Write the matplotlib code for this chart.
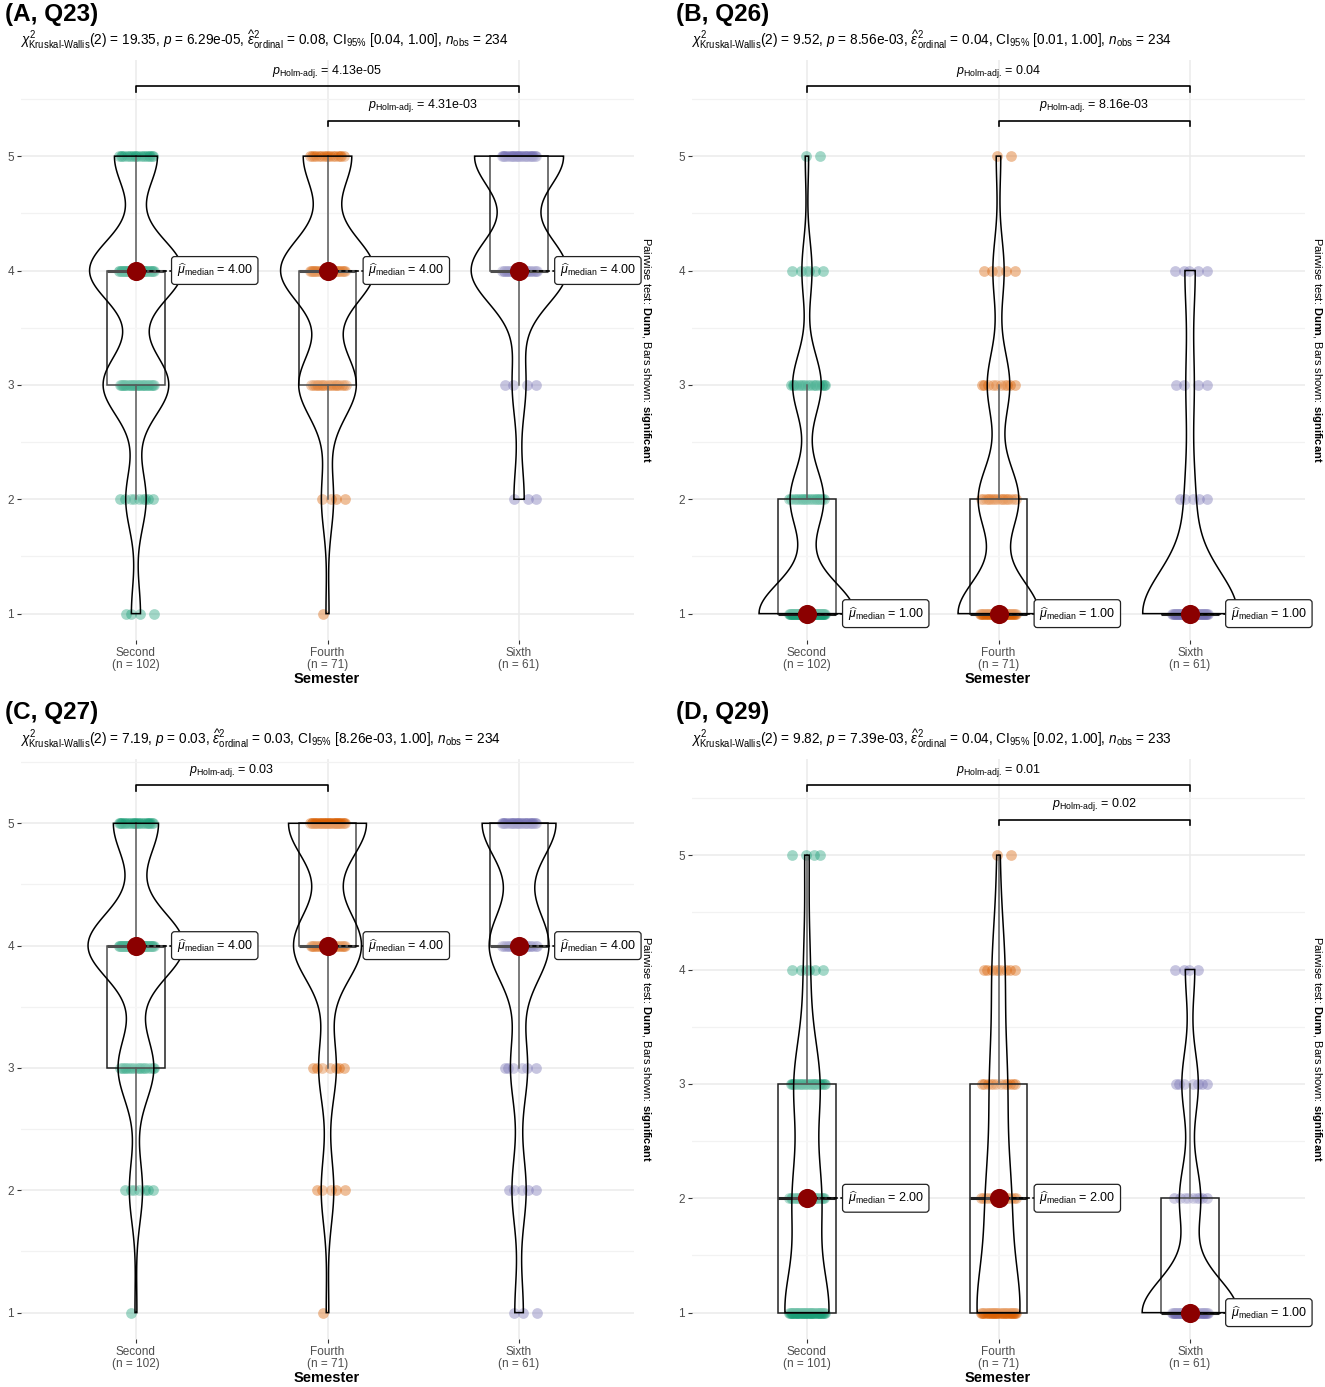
import numpy as np
import matplotlib.pyplot as plt
from matplotlib.patches import Polygon

# Fonts: Arial-like text, math in the same family
plt.rcParams['font.family'] = ['Liberation Sans', 'DejaVu Sans']
plt.rcParams['mathtext.fontset'] = 'custom'
plt.rcParams['mathtext.rm'] = 'Liberation Sans'
plt.rcParams['mathtext.it'] = 'Liberation Sans:italic'
plt.rcParams['mathtext.bf'] = 'Liberation Sans:bold'
plt.rcParams['mathtext.sf'] = 'Liberation Sans'

# Likert levels and semester groups
levels = [1, 2, 3, 4, 5]
groups = ['Second', 'Fourth', 'Sixth']

q23_second = [4, 9, 29, 41, 19]
q23_fourth = [1, 4, 19, 31, 16]
q23_sixth = [0, 3, 4, 28, 26]

q26_second = [57, 20, 17, 6, 2]
q26_fourth = [36, 18, 10, 5, 2]
q26_sixth = [47, 5, 4, 5, 0]

q27_second = [1, 7, 19, 51, 24]
q27_fourth = [1, 5, 7, 27, 31]
q27_sixth = [3, 5, 6, 21, 26]

q29_second = [41, 26, 24, 6, 4]
q29_fourth = [31, 17, 12, 9, 2]
q29_sixth = [41, 9, 7, 4, 0]

# panel titles and test results
titles = ['(A, Q23)', '(B, Q26)', '(C, Q27)', '(D, Q29)']
chi = r'$\chi^2_{\text{Kruskal-Wallis}}$'
eps = r'$\widehat{\varepsilon}^2_{\text{ordinal}}$'
subtitles = [
    chi + r'(2) = 19.35, $p$ = 6.29e-05, ' + eps + r' = 0.08, CI$_{95\%}$ [0.04, 1.00], $n_{\text{obs}}$ = 234',
    chi + r'(2) = 9.52, $p$ = 8.56e-03, ' + eps + r' = 0.04, CI$_{95\%}$ [0.01, 1.00], $n_{\text{obs}}$ = 234',
    chi + r'(2) = 7.19, $p$ = 0.03, ' + eps + r' = 0.03, CI$_{95\%}$ [8.26e-03, 1.00], $n_{\text{obs}}$ = 234',
    chi + r'(2) = 9.82, $p$ = 7.39e-03, ' + eps + r' = 0.04, CI$_{95\%}$ [0.02, 1.00], $n_{\text{obs}}$ = 233',
]
# significant Dunn pairs (group index a, group index b, Holm-adjusted p)
pairs_q23 = [(1, 3, '4.13e-05'), (2, 3, '4.31e-03')]
pairs_q26 = [(1, 3, '0.04'), (2, 3, '8.16e-03')]
pairs_q27 = [(1, 2, '0.03')]
pairs_q29 = [(1, 3, '0.01'), (2, 3, '0.02')]

panel_counts = [
    [q23_second, q23_fourth, q23_sixth],
    [q26_second, q26_fourth, q26_sixth],
    [q27_second, q27_fourth, q27_sixth],
    [q29_second, q29_fourth, q29_sixth],
]
panel_pairs = [pairs_q23, pairs_q26, pairs_q27, pairs_q29]

colors = ['#1B9E77', '#D95F02', '#7570B3']

W, H = 1325, 1387
fig = plt.figure(figsize=(W / 100, H / 100), dpi=100)


def rect(x0, y0, x1, y1):
    return [x0 / W, 1 - y1 / H, (x1 - x0) / W, (y1 - y0) / H]


def bw_nrd0(x):
    # R's default bandwidth
    hi = np.std(x, ddof=1)
    q75, q25 = np.percentile(x, [75, 25])
    lo = min(hi, (q75 - q25) / 1.34)
    if not lo:
        lo = hi or abs(x[0]) or 1
    return 0.9 * lo * len(x) ** -0.2


def draw_panel(ax, counts, pairs):
    data = [np.repeat(levels, c) for c in counts]
    top = 5.31 + 0.30 * (len(pairs) - 1)
    span = top - 1
    ax.set_xlim(0.4, 3.6)
    ax.set_ylim(1 - 0.05 * span, top + 0.05 * span)

    ax.set_yticks(levels)
    ax.set_yticks(np.arange(1.5, 6.0, 1.0), minor=True)
    ax.set_xticks([1, 2, 3])
    ax.set_xticklabels([f'{g}\n(n = {len(d)})' for g, d in zip(groups, data)],
                       linespacing=1.0)
    ax.grid(which='major', color='#EBEBEB', lw=1.1)
    ax.grid(which='minor', axis='y', color='#F2F2F2', lw=0.9)
    ax.set_axisbelow(True)
    for s in ax.spines.values():
        s.set_visible(False)
    ax.tick_params(axis='both', which='major', length=3, width=0.8, color='#333333',
                   labelsize=8.5, labelcolor='#4D4D4D', pad=2)
    ax.tick_params(axis='both', which='minor', length=0)

    # jittered raw points
    for i, c in enumerate(counts):
        for lev, n in zip(levels, c):
            k = np.arange(n)
            offs = ((k * 0.618034 + lev * 0.37) % 1 - 0.5) * 0.19
            ax.scatter(i + 1 + offs, np.full(n, lev), s=60, color=colors[i],
                       alpha=0.4, linewidths=0, zorder=2)

    # boxplots
    ax.boxplot(data, positions=[1, 2, 3], widths=0.3, showfliers=False, showcaps=False,
               patch_artist=True, manage_ticks=False,
               boxprops=dict(facecolor=(1, 1, 1, 0.2), edgecolor='#222222', lw=1.1),
               whiskerprops=dict(color='#333333', lw=1.1),
               medianprops=dict(color='#222222', lw=2.2), zorder=3)

    # violins, scale = "area" (max density of the panel -> width 0.5)
    curves = []
    for d in data:
        h = bw_nrd0(d)
        ys = np.linspace(d.min(), d.max(), 512)
        dens = np.exp(-0.5 * ((ys[:, None] - d[None, :]) / h) ** 2).sum(1) / (len(d) * h * np.sqrt(2 * np.pi))
        curves.append((ys, dens))
    gmax = max(dens.max() for _, dens in curves)
    for i, (ys, dens) in enumerate(curves):
        half = 0.25 * dens / gmax
        xs = np.concatenate([i + 1 - half, (i + 1 + half)[::-1]])
        yy = np.concatenate([ys, ys[::-1]])
        ax.add_patch(Polygon(np.column_stack([xs, yy]), closed=True, facecolor=(1, 1, 1, 0.2),
                             edgecolor='black', lw=1.1, zorder=4))

    # medians with labels
    for i, d in enumerate(data):
        med = np.median(d)
        x = i + 1
        ax.plot([x, x + 0.19], [med, med], ls=(0, (2.5, 1.5)), color='black', lw=1.2, zorder=5)
        ax.scatter([x], [med], s=190, color='#8B0000', zorder=6, linewidths=0)
        ax.text(x + 0.212, med, r'$\widehat{\mu}_{\text{median}}$' + f' = {med:.2f}',
                ha='left', va='center', fontsize=9, zorder=7,
                bbox=dict(boxstyle='round,pad=0.4,rounding_size=0.25', fc='white',
                          ec='#222222', lw=0.9))

    # significance brackets
    for j, (a, b, p) in enumerate(pairs):
        y = 5.31 + 0.30 * (len(pairs) - 1 - j)
        tip = 0.045
        ax.plot([a, a, b, b], [y - tip, y, y, y - tip], color='black', lw=1.2, zorder=5)
        ax.annotate(r'$p_{\text{Holm-adj.}}$' + f' = {p}', xy=((a + b) / 2, y),
                    xytext=(0, 11), textcoords='offset points', ha='center', va='center',
                    fontsize=9)


# panel layout in pixels (left, top) of plotting region
origins = [(21, 60), (692, 60), (21, 759), (692, 759)]
for idx in range(4):
    x0, y0 = origins[idx]
    ax = fig.add_axes(rect(x0, y0, x0 + 613, y0 + 580))
    draw_panel(ax, panel_counts[idx], panel_pairs[idx])

    tx = x0 - 16
    fig.text(tx / W, 1 - (y0 - 46) / H, titles[idx], fontsize=17.5, fontweight='bold',
             ha='left', va='center')
    fig.text((x0 - 1) / W, 1 - (y0 - 15) / H, subtitles[idx], fontsize=9.8,
             ha='left', va='baseline')
    fig.text((x0 + 625) / W, 1 - (y0 + 290) / H,
             r'Pairwise test: $\mathbf{Dunn}$, Bars shown: $\mathbf{significant}$',
             rotation=270, ha='center', va='center', fontsize=8)
    fig.text((x0 + 306) / W, 1 - (y0 + 619) / H, 'Semester', fontsize=10.5,
             fontweight='bold', ha='center', va='center')

fig.savefig('out.png', dpi=100, facecolor='white')
